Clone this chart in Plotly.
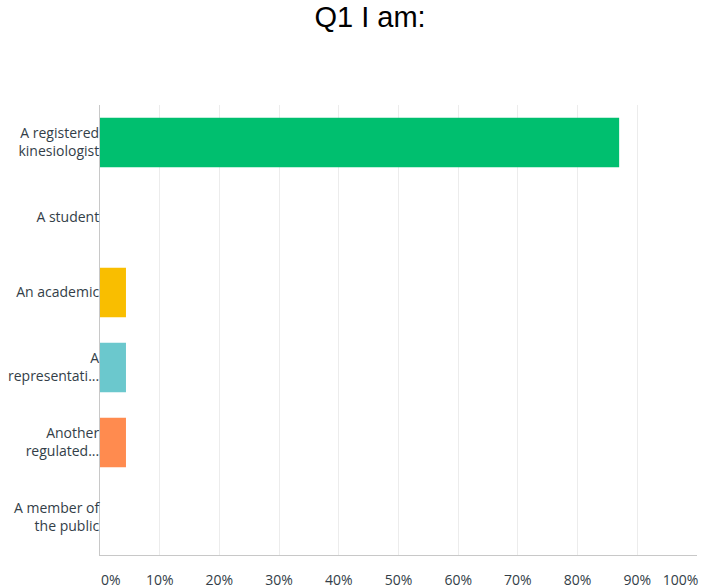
import plotly.graph_objects as go

categories = ["A registered<br>kinesiologist", "A student", "An academic",
              "A<br>representati...", "Another<br>regulated...", "A member of<br>the public"]
values = [86.96, 0.0, 4.35, 4.35, 4.35, 0.0]
colors = ["#00bf6f", "#a05db2", "#f9be00", "#6bc8cd", "#ff8b4f", "#7fcdd9"]
tick_vals = [0, 10, 20, 30, 40, 50, 60, 70, 80, 90, 100]
NB = "\u00a0"
tick_text = [NB * 6 + "0%", "10%", "20%", "30%", "40%", "50%", "60%", "70%", "80%", "90%",
             "100%" + NB * 9]

fig = go.Figure(go.Bar(
    x=values, y=categories, orientation="h",
    marker=dict(color=colors, line=dict(width=0)),
    width=0.66, hoverinfo="x+y",
))

fig.update_layout(
    width=701, height=588,
    margin=dict(l=100, r=4, t=105, b=33, autoexpand=False),
    paper_bgcolor="white", plot_bgcolor="white",
    title=dict(text="Q1 I am:", x=370/701, xanchor="center", y=1 - 17/588, yanchor="middle",
               font=dict(family="Liberation Sans, Arial", size=29, color="#000000")),
    showlegend=False,
    bargap=0.34,
)
fig.update_xaxes(
    range=[0, 100], tickvals=tick_vals, ticktext=tick_text,
    showgrid=True, gridcolor="#ececec", gridwidth=1,
    zeroline=False, showline=True, linecolor="#c8c8c8", linewidth=1,
    ticks="outside", ticklen=12, tickcolor="rgba(0,0,0,0)",
    ticklabeloverflow="allow", automargin=False,
    tickfont=dict(family="Open Sans, Roboto, sans-serif", size=14, color="#333e48"),
    fixedrange=True,
)
fig.update_yaxes(
    autorange="reversed", automargin=False,
    showgrid=False, zeroline=False, showline=True, linecolor="#c8c8c8", linewidth=1,
    ticks="", ticklabelstandoff=-3,
    tickfont=dict(family="Open Sans, Roboto, sans-serif", size=14, color="#333e48"),
    fixedrange=True,
)

fig.write_html("out.html")
